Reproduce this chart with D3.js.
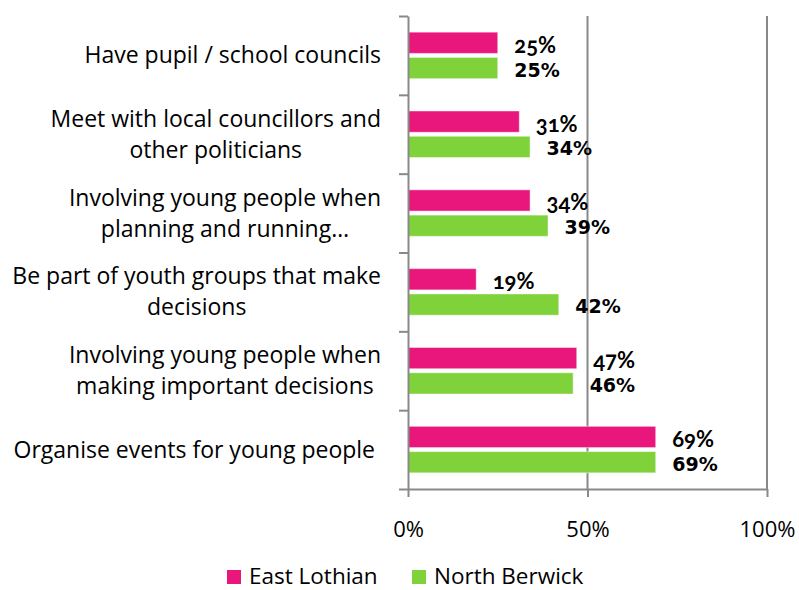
<!DOCTYPE html>
<html>
<head>
<meta charset="utf-8">
<script src="https://cdn.jsdelivr.net/npm/d3@7"></script>
<style>
  html, body { margin: 0; padding: 0; background: #fff; }
  svg { display: block; }
</style>
</head>
<body>
<div id="chart"></div>
<script>
const categories = [
  "Have pupil / school councils",
  "Meet with local councillors and\nother politicians",
  "Involving young people when\nplanning and running\u2026",
  "Be part of youth groups that make\ndecisions",
  "Involving young people when\nmaking important decisions",
  "Organise events for young people\u00a0"
];
const seriesNames = ["East Lothian", "North Berwick"];
const eastLothian = [0.25, 0.31, 0.34, 0.19, 0.47, 0.69];
const northBerwick = [0.25, 0.34, 0.39, 0.42, 0.46, 0.69];
const xTicks = [0, 0.5, 1];

const width = 799, height = 590;
const colors = ["#E9177B", "#80D23B"];
const axisColor = "#898989";
const textFont = "'Open Sans', sans-serif";
const plot = { left: 408, right: 767, top: 16, bottom: 489 };

const svg = d3.select("#chart").append("svg")
  .attr("width", width).attr("height", height);

const x = d3.scaleLinear().domain([0, 1]).range([plot.left, plot.right]);
const y = d3.scaleBand().domain(d3.range(categories.length))
  .range([plot.top, plot.bottom]).paddingInner(0.41).paddingOuter(0.205);
const ySeries = d3.scaleBand().domain([0, 1])
  .range([0, y.bandwidth()]).paddingInner(0.16);
const yIdx = d3.scaleLinear().domain([0, categories.length]).range([plot.top, plot.bottom]);

// gridlines
svg.append("g").selectAll("line")
  .data(xTicks.slice(1))
  .join("line")
  .attr("x1", d => x(d)).attr("x2", d => x(d))
  .attr("y1", plot.top).attr("y2", plot.bottom)
  .attr("stroke", axisColor).attr("stroke-width", 2);

// bars
const rows = categories.map((c, i) => ({ i, values: [eastLothian[i], northBerwick[i]] }));
const groups = svg.append("g").selectAll("g")
  .data(rows)
  .join("g")
  .attr("transform", d => `translate(0,${y(d.i)})`);

groups.selectAll("rect")
  .data(d => d.values.map((v, s) => ({ v, s })))
  .join("rect")
  .attr("x", x(0))
  .attr("y", d => ySeries(d.s))
  .attr("width", d => x(d.v) - x(0))
  .attr("height", ySeries.bandwidth())
  .attr("fill", d => colors[d.s])
  .attr("stroke", "#fff").attr("stroke-opacity", 0.45).attr("stroke-width", 1);

// data labels (East Lothian ones use old-style figures in the original)
groups.selectAll("text")
  .data(d => d.values.map((v, s) => ({ v, s })))
  .join("text")
  .attr("x", d => x(d.v) + 16.5)
  .attr("y", d => ySeries(d.s) + ySeries.bandwidth() / 2 + (d.s === 0 ? 10 : 8.5))
  .style("font-family", d => d.s === 0 ? "Lato, sans-serif" : "'DejaVu Sans', sans-serif")
  .style("font-variant-numeric", d => d.s === 0 ? "oldstyle-nums" : "normal")
  .style("font-size", d => d.s === 0 ? "22px" : "19px")
  .style("font-weight", "bold")
  .attr("fill", "#000")
  .text(d => d3.format(".0%")(d.v));

// left axis (category separators)
const leftAxis = svg.append("g")
  .attr("transform", `translate(${plot.left},0)`)
  .call(d3.axisLeft(yIdx).tickValues(d3.range(categories.length + 1)).tickFormat("").tickSize(9).tickSizeOuter(0));
leftAxis.select(".domain").attr("stroke", axisColor).attr("stroke-width", 2);
leftAxis.selectAll(".tick line").attr("stroke", axisColor).attr("stroke-width", 2);

// bottom axis
const bottomAxis = svg.append("g")
  .attr("transform", `translate(0,${plot.bottom})`)
  .call(d3.axisBottom(x).tickValues(xTicks).tickFormat(d3.format(".0%")).tickSize(8).tickSizeOuter(0).tickPadding(24));
bottomAxis.select(".domain").attr("stroke", axisColor).attr("stroke-width", 2);
bottomAxis.selectAll(".tick line").attr("stroke", axisColor).attr("stroke-width", 2);
bottomAxis.selectAll(".tick text")
  .style("font-family", textFont).style("font-size", "22px").attr("fill", "#000");

// category labels
const labelRight = 381, lineHeight = 31;
categories.forEach((c, i) => {
  const lines = c.split("\n");
  const cy = y(i) + y.bandwidth() / 2;
  const t = svg.append("text")
    .style("font-family", textFont).style("font-size", "23px")
    .attr("fill", "#000").attr("text-anchor", "middle");
  const spans = lines.map((ln, k) => t.append("tspan")
    .attr("y", cy + 8 + (k - (lines.length - 1) / 2) * lineHeight)
    .text(ln));
  const maxW = d3.max(spans, s => s.node().getComputedTextLength());
  spans.forEach(s => s.attr("x", labelRight - maxW / 2));
});

// legend
const legendX = [227, 412];
const legend = svg.append("g").selectAll("g")
  .data(seriesNames)
  .join("g")
  .attr("transform", (d, i) => `translate(${legendX[i]},570)`);
legend.append("rect").attr("width", 14).attr("height", 14).attr("fill", (d, i) => colors[i]);
legend.append("text").attr("x", 22).attr("y", 14)
  .style("font-family", textFont).style("font-size", "22.5px").attr("fill", "#000")
  .text(d => d);
</script>
</body>
</html>
